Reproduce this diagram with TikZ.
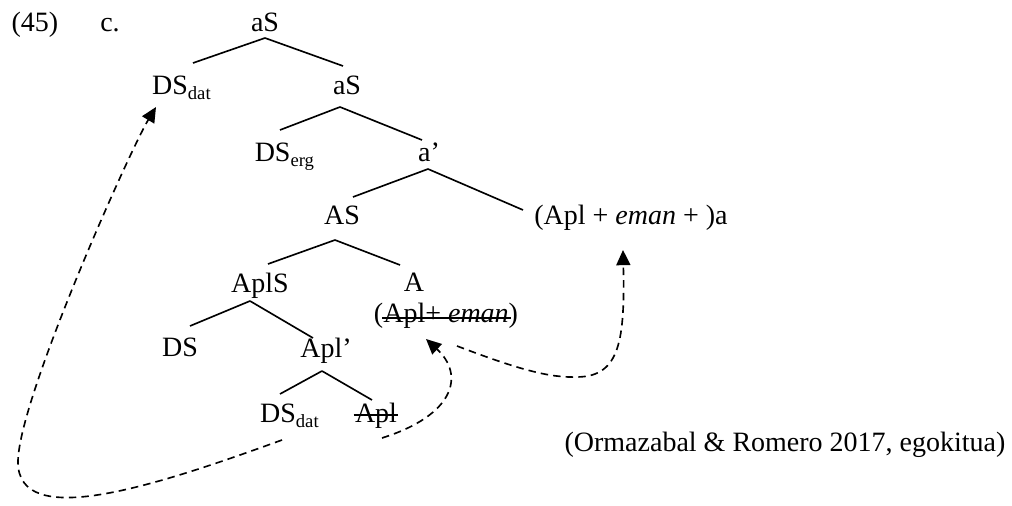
\documentclass[tikz,border=0pt]{standalone}
\usepackage{fontspec}
\setmainfont{Liberation Serif}
\usetikzlibrary{arrows.meta}

\begin{document}
\begin{tikzpicture}[
  x=0.4286pt, y=-0.4286pt,
  font=\fontsize{12pt}{14pt}\selectfont,
  lbl/.style={anchor=base, inner sep=0pt},
  branch/.style={line width=0.7pt},
  strike/.style={line width=0.7pt},
  move/.style={line width=0.7pt, dash pattern=on 3.2pt off 2.2pt,
               -{Triangle[length=6.5pt, width=6pt]}}
]
\useasboundingbox (0,0) rectangle (1012,506);

% example number
\node[lbl] (num) at (35,32) {(45)};
\node[lbl] (sub) at (110,32) {c.};

% tree labels
\node[lbl] (aS)     at (265,32)  {aS};
\node[lbl] (dsdat)  at (182,95)  {DS\textsubscript{dat}};
\node[lbl] (aSb)    at (347,95)  {aS};
\node[lbl] (dserg)  at (285,162) {DS\textsubscript{erg}};
\node[lbl] (abar)   at (429,162) {a’};
\node[lbl] (AS)     at (342,225) {AS};
\node[lbl] (apla)   at (631,225) {(Apl + \textit{eman} + )a};
\node[lbl] (aplS)   at (260,293) {AplS};
\node[lbl] (A)      at (414,292) {A};
\node[lbl] (aeman)  at (446,323) {(Apl+ \textit{eman})};
\node[lbl] (DS)     at (180,357) {DS};
\node[lbl] (aplbar) at (326,358) {Apl’};
\node[lbl] (dsdatb) at (290,423) {DS\textsubscript{dat}};
\node[lbl] (aplx)   at (376,423) {Apl};

\node[lbl] (cite) at (785,452) {(Ormazabal \& Romero 2017, egokitua)};

% strike-through (copies left behind)
\draw[strike] ([shift={(9,-5)}]aeman.base west) -- ([shift={(-8,-5)}]aeman.base east);
\draw[strike] ([shift={(-1,-8)}]aplx.base west) -- ([shift={(1,-8)}]aplx.base east);

% branches
\draw[branch] ([shift={(0,6)}]aS.base)      -- ([shift={(11,-32)}]dsdat.base);
\draw[branch] ([shift={(0,6)}]aS.base)      -- ([shift={(-4,-29)}]aSb.base);
\draw[branch] ([shift={(-7,12)}]aSb.base)   -- ([shift={(-5,-32)}]dserg.base);
\draw[branch] ([shift={(-7,12)}]aSb.base)   -- ([shift={(-7,-22)}]abar.base);
\draw[branch] ([shift={(-1,7)}]abar.base)   -- ([shift={(11,-28)}]AS.base);
\draw[branch] ([shift={(-1,7)}]abar.base)   -- ([shift={(-108,-15)}]apla.base);
\draw[branch] ([shift={(-7,15)}]AS.base)    -- ([shift={(8,-29)}]aplS.base);
\draw[branch] ([shift={(-7,15)}]AS.base)    -- ([shift={(-14,-27)}]A.base);
\draw[branch] ([shift={(-10,8)}]aplS.base)  -- ([shift={(10,-31)}]DS.base);
\draw[branch] ([shift={(-10,8)}]aplS.base)  -- ([shift={(-13,-20)}]aplbar.base);
\draw[branch] ([shift={(-4,13)}]aplbar.base) -- ([shift={(-10,-29)}]dsdatb.base);
\draw[branch] ([shift={(-4,13)}]aplbar.base) -- ([shift={(-4,-23)}]aplx.base);

% movement arrows
\draw[move] ([shift={(-8,17)}]dsdatb.base)
  .. controls (150,488) and (18,530) .. (18,462)
  .. controls (18,400) and (130,150) .. ([shift={(-26,12)}]dsdat.base);
\draw[move] ([shift={(6,15)}]aplx.base)
  .. controls (455,415) and (465,375) .. ([shift={(-20,16)}]aeman.base);
\draw[move] ([shift={(11,23)}]aeman.base)
  .. controls (520,370) and (550,378) .. (578,377)
  .. controls (620,376) and (625,340) .. ([shift={(-8,25)}]apla.base);

\end{tikzpicture}
\end{document}
